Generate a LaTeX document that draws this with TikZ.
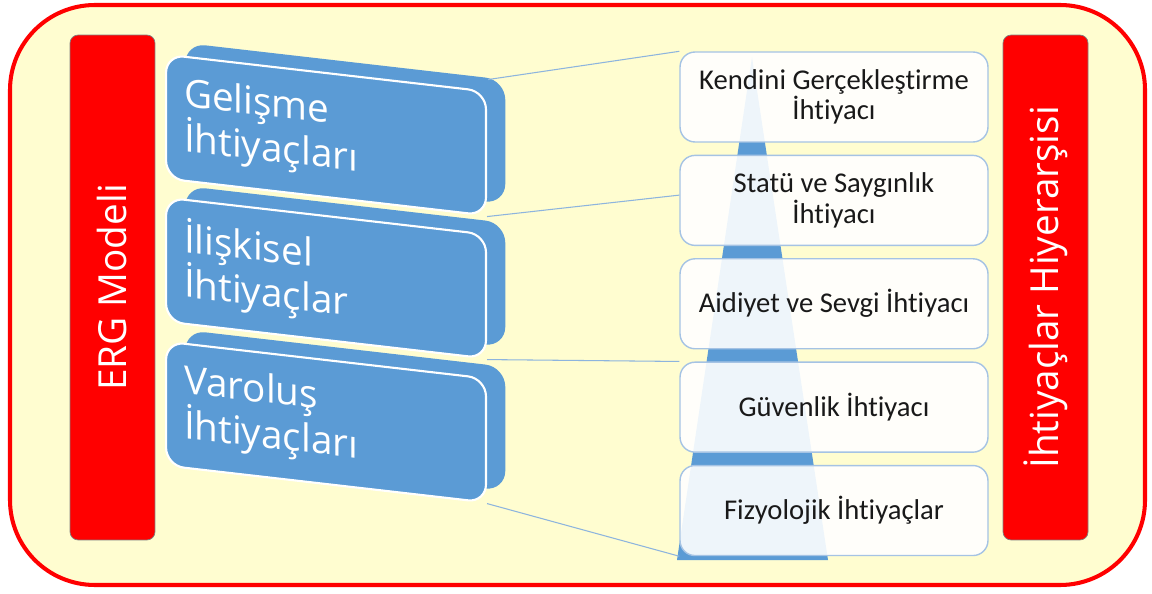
\documentclass[tikz,border=0pt]{standalone}
\usepackage{fontspec}
\setmainfont{Carlito}[Ligatures=NoCommon]
\newfontfamily\labelfont{Open Sans}
\usetikzlibrary{positioning}
\definecolor{paper}{RGB}{255,253,208}
\definecolor{ergblue}{RGB}{91,155,213}
\definecolor{linkblue}{RGB}{141,180,222}
\definecolor{boxedge}{RGB}{165,195,228}
\tikzset{>=stealth,
  redbar/.style={draw=gray,fill=red,rounded corners=0.16cm,rotate=90,
    minimum width=10.1cm,minimum height=1.7cm,text=white,
    font=\labelfont\fontsize{22}{26}\selectfont},
  ergback/.style={fill=ergblue,rounded corners=0.4cm,
    minimum width=6.4cm,minimum height=2.48cm,
    yslant=-0.115,transform shape,anchor=west},
  ergbox/.style={ergback,draw=white,line width=1.2pt,rounded corners=0.36cm,
    text width=5.68cm,inner xsep=0.36cm,align=left,text=white,
    font=\labelfont\fontsize{22}{25.5}\selectfont},
  needbox/.style={draw=boxedge,line width=0.8pt,fill=white,fill opacity=0.9,
    text opacity=1,rounded corners=0.3cm,minimum width=6.16cm,minimum height=1.8cm,
    align=center,text=black!90,font=\fontsize{16.3}{16}\selectfont},
  link/.style={draw=linkblue,line width=0.6pt}
}
\begin{document}
\begin{tikzpicture}[x=0.02cm,y=-0.02cm]
\fill[white] (0,0) rectangle (1152,594);
\useasboundingbox (0,0) rectangle (1152,594);
\draw[red,line width=2.3pt,fill=paper,rounded corners=1.7cm] (10,5) rectangle (1145,585);

\node[redbar] (erg) at (112.5,287.5) {ERG Modeli};
\node[redbar] (hier) at (1045.5,287.5) {İhtiyaçlar Hiyerarşisi};

% ERG blocks, lowest first so the upper ones overlap
\node[ergback] (varb) at (185,392) {};
\node[ergbox] (var) at (165,403.5) {Varoluş\\İhtiyaçları};
\node[ergback] (ilisb) at (185,248) {};
\node[ergbox] (ilis) at (165,259.5) {İlişkisel\\İhtiyaçlar};
\node[ergback] (gelb) at (185,105) {};
\node[ergbox] (gel) at (165,116.5) {Gelişme\\İhtiyaçları};

% pyramid behind the needs
\fill[ergblue] (752,57) -- (828,560) -- (677,560) -- cycle;

\node[needbox] (kendi) at (834,97) {Kendini Gerçekleştirme\\İhtiyacı};
\node[needbox,below=0.24cm of kendi] (statu) {Statü ve Saygınlık\\İhtiyacı};
\node[needbox,below=0.24cm of statu] (aidi) {Aidiyet ve Sevgi İhtiyacı};
\node[needbox,below=0.24cm of aidi] (guv) {Güvenlik İhtiyacı};
\node[needbox,below=0.24cm of guv] (fiz) {Fizyolojik İhtiyaçlar};

\draw[link] ([xshift=-10pt]gelb.north east) -- (kendi.north west);
\draw[link] (gel.south east) -- ([yshift=3pt]statu.west);
\draw[link] (ilis.south east) -- (guv.north west);
\draw[link] (var.south east) -- (fiz.south west);
\end{tikzpicture}
\end{document}
